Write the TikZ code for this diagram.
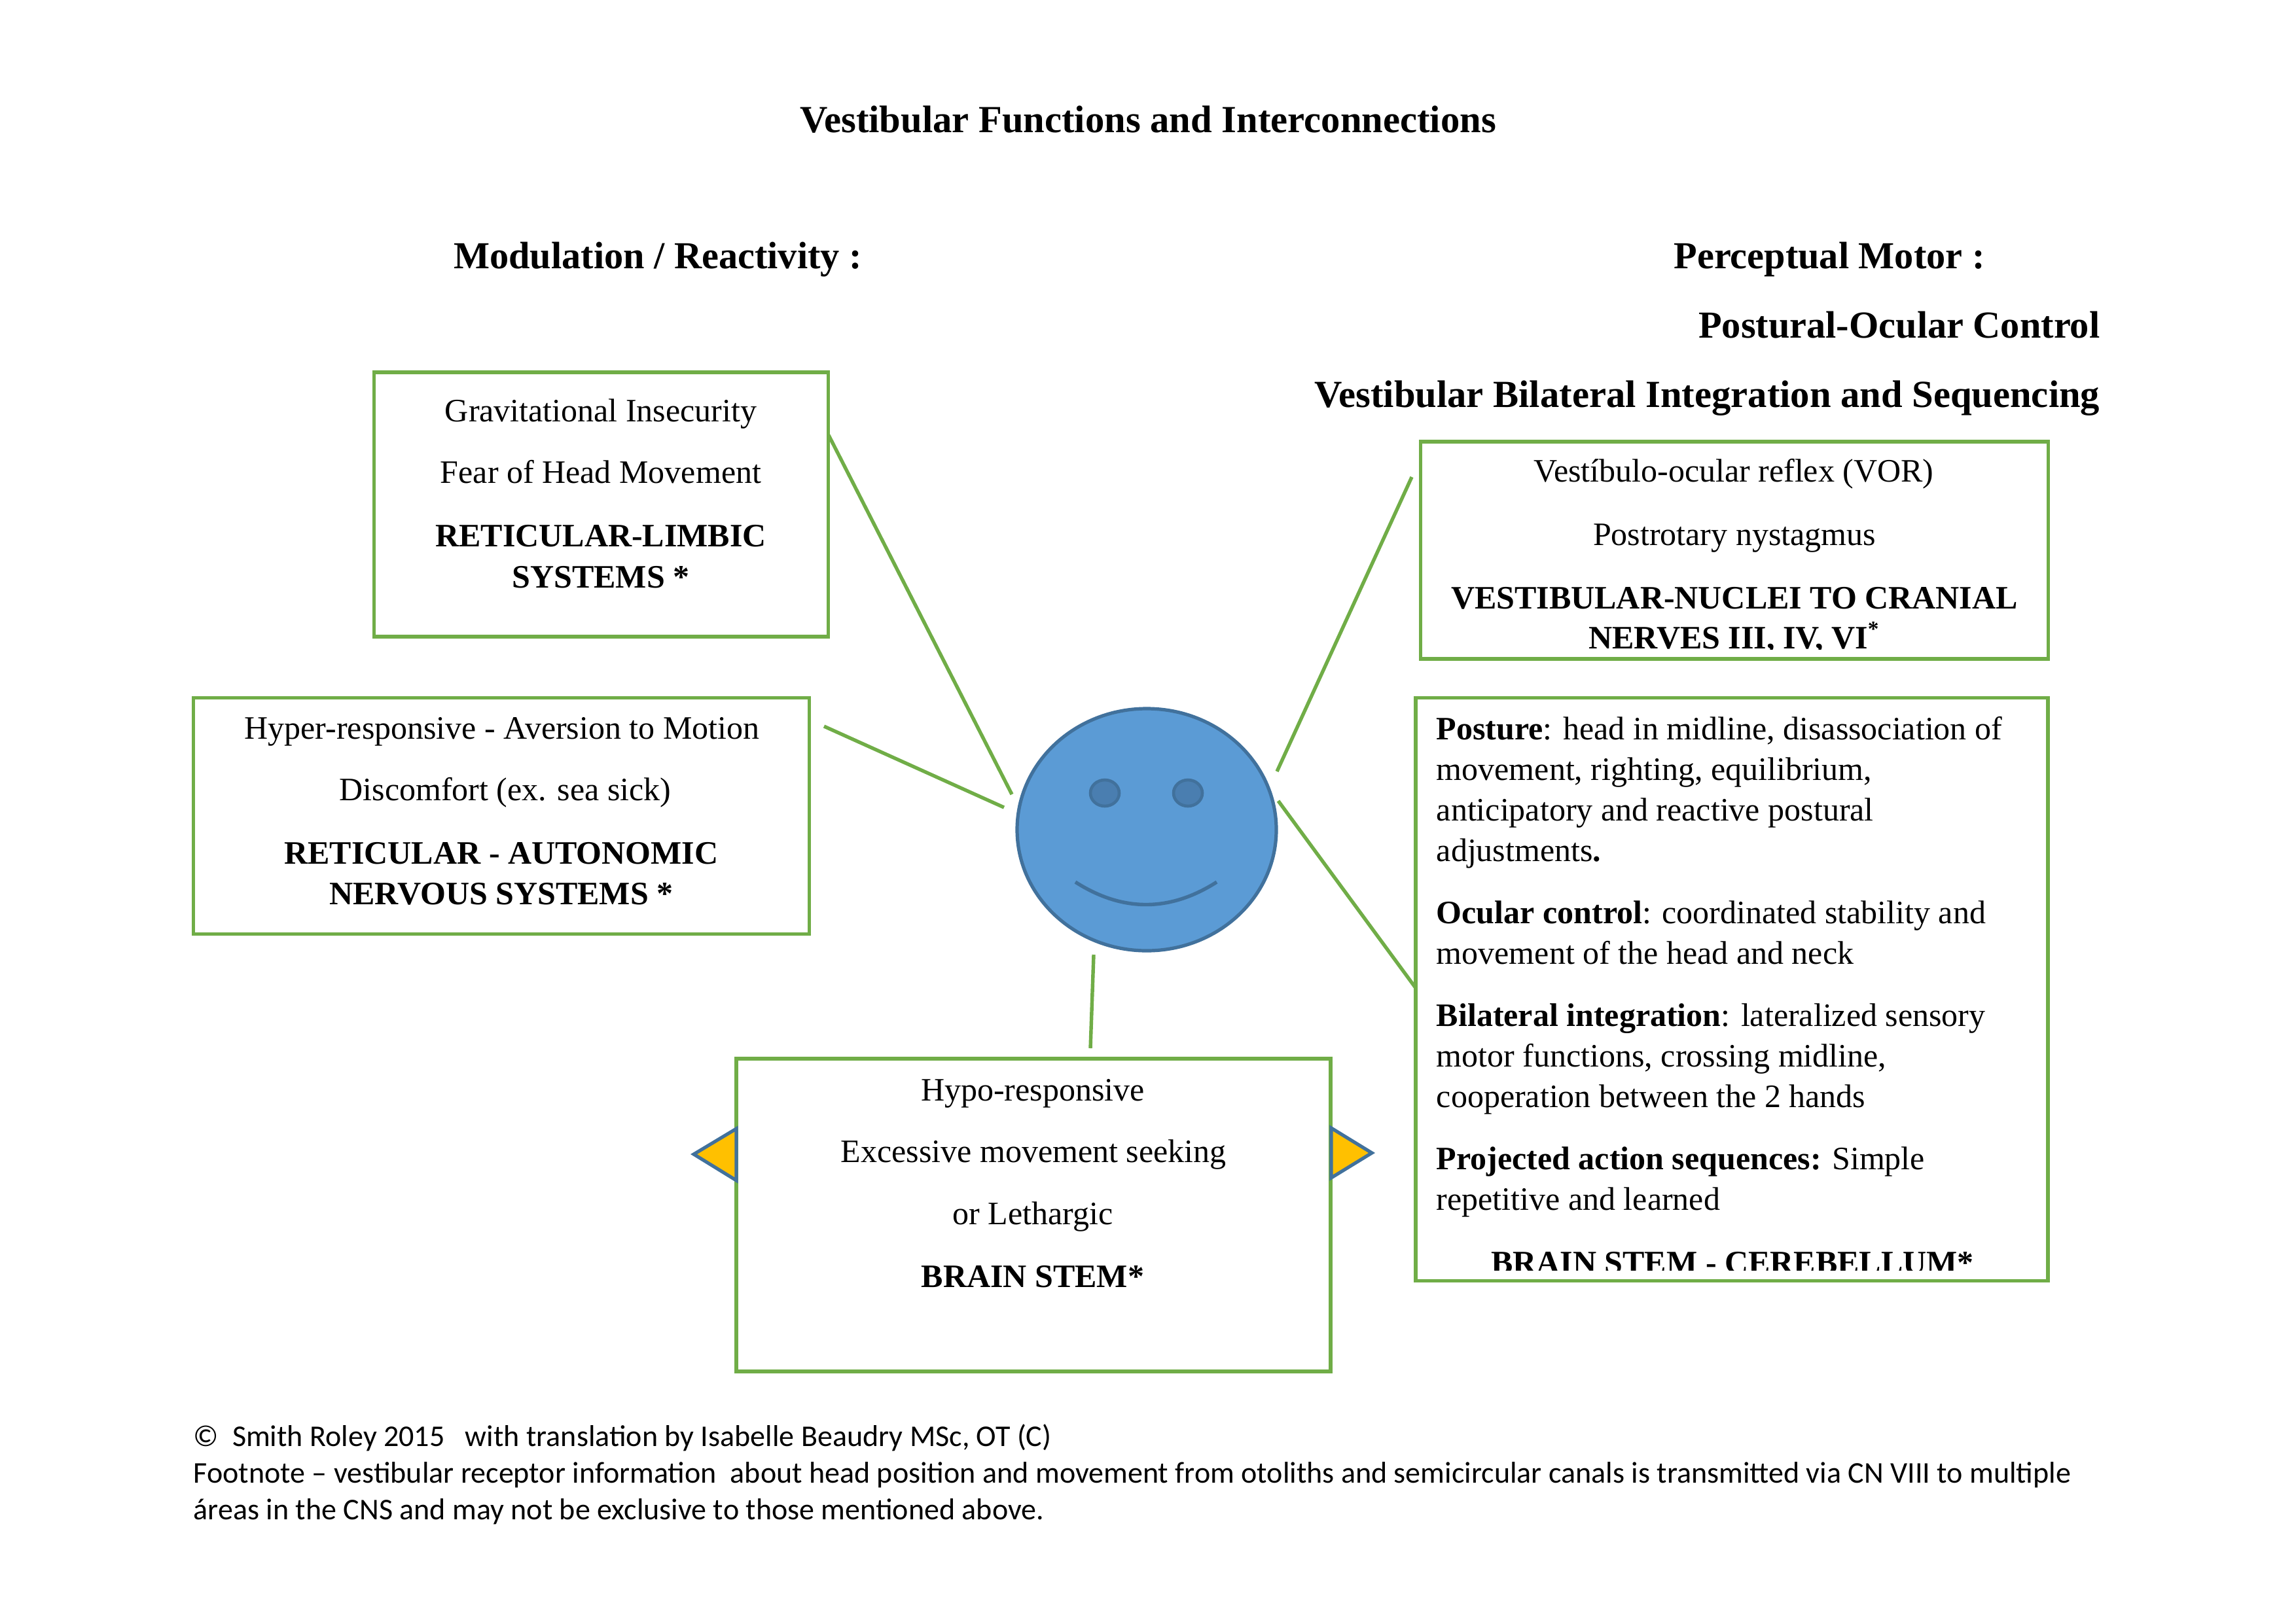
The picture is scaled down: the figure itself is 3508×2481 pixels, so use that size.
\documentclass[tikz,border=0pt]{standalone}
\usepackage{fontspec}
\setmainfont{Liberation Serif}
\newfontfamily\footfont{Carlito}
\definecolor{grn}{HTML}{70AD47}
\definecolor{faceblue}{HTML}{5B9BD5}
\definecolor{faceline}{HTML}{41719C}
\definecolor{eyefill}{HTML}{4A7EB0}
\definecolor{gold}{HTML}{FFC000}
\tikzset{
  boxn/.style={draw=grn,line width=1.22pt,rectangle,inner sep=0pt,outer sep=0pt},
  boxm/.style={boxn,line width=1.3pt},
  conn/.style={draw=grn,line width=1.3pt},
  txt/.style={anchor=base,inner sep=0pt,font=\fontsize{12}{14}\selectfont},
  txtl/.style={txt,anchor=base west},
  hd/.style={anchor=base,inner sep=0pt,font=\fontsize{14}{16}\selectfont\bfseries},
  hdw/.style={anchor=base,inner sep=0pt,font=\fontsize{14.07}{16}\selectfont\bfseries},
  hdr/.style={hd,anchor=base east},
  foot/.style={anchor=base west,inner sep=0pt,font=\fontsize{11.05}{13}\footfont},
  face/.style={draw=faceline,line width=1.25pt,fill=faceblue,ellipse,inner sep=0pt,outer sep=0pt},
  eye/.style={ellipse,draw=faceline,fill=eyefill,line width=1.1pt,minimum width=44*0.24pt,minimum height=40*0.24pt,inner sep=0pt},
  tri/.style={draw=faceline,line width=1.25pt,fill=gold,line join=miter},
}
\usetikzlibrary{shapes.geometric}
\begin{document}
\begin{tikzpicture}[x=0.24pt,y=-0.24pt]
\useasboundingbox (0,0) rectangle (3508,2481);
% headings
\node[hdw] (title) at (1754,202) {Vestibular Functions and Interconnections};
\node[hd] (modul) at (1005,410) {Modulation / Reactivity :};
\node[hd] (percept) at (2795,410) {Perceptual Motor :};
\node[hdr] (postural) at (3209,516) {Postural-Ocular Control};
\node[hdw,anchor=base east] (bilat) at (3209,622) {Vestibular Bilateral Integration and Sequencing};
% boxes
\node[boxn,minimum width=694*0.24pt,minimum height=404*0.24pt] (box1) at (918.5,771) {};
\node[boxn,minimum width=941*0.24pt,minimum height=361*0.24pt] (box2) at (766,1247) {};
\node[boxn,minimum width=908*0.24pt,minimum height=478*0.24pt] (box3) at (1579,1857) {};
\node[boxm,minimum width=959*0.24pt,minimum height=332*0.24pt] (box4) at (2650,841) {};
\node[boxm,minimum width=966*0.24pt,minimum height=891*0.24pt] (box5) at (2646,1512) {};
% face
\node[face,minimum width=396*0.24pt,minimum height=370*0.24pt] (facen) at (1752,1268) {};
\node[eye] (eyel) at (1688,1212) {};
\node[eye] (eyer) at (1815,1212) {};
\coordinate (smilel) at (1643,1348);
\coordinate (smiler) at (1859,1348);
\draw[faceline,line width=1.3pt] (smilel) .. controls (1715,1394) and (1787,1394) .. (smiler);
% connectors
\coordinate (c1a) at (1266,665); \coordinate (c1b) at (1546,1214);
\coordinate (c2a) at (1259,1110); \coordinate (c2b) at (1534,1234);
\coordinate (c3a) at (1671,1459); \coordinate (c3b) at (1666,1602);
\coordinate (c4a) at (1951,1179); \coordinate (c4b) at (2157,729);
\coordinate (c5a) at (1953,1224); \coordinate (c5b) at (2163,1510);
\draw[conn] (c1a) -- (c1b);
\draw[conn] (c2a) -- (c2b);
\draw[conn] (c3a) -- (c3b);
\draw[conn] (c4a) -- (c4b);
\draw[conn] (c5a) -- (c5b);
% triangles
\coordinate (tl1) at (1125,1725); \coordinate (tl2) at (1060,1764); \coordinate (tl3) at (1125,1804);
\coordinate (tr1) at (2034,1724); \coordinate (tr2) at (2096,1762); \coordinate (tr3) at (2034,1800);
\draw[tri] (tl1) -- (tl2) -- (tl3) -- cycle;
\draw[tri] (tr1) -- (tr2) -- (tr3) -- cycle;
% box 1 text
\node[txt] (b1a) at (918,644) {Gravitational Insecurity};
\node[txt] (b1b) at (918,738) {Fear of Head Movement};
\node[txt] (b1c) at (918,835) {\bfseries RETICULAR-LIMBIC};
\node[txt] (b1d) at (918,898) {\bfseries SYSTEMS *};
% box 2 text
\node[txt] (b2a) at (767,1129) {Hyper-responsive - Aversion to Motion};
\node[txt] (b2b) at (772,1223) {Discomfort (ex. sea sick)};
\node[txt] (b2c) at (766,1320) {\bfseries RETICULAR - AUTONOMIC};
\node[txt] (b2d) at (766,1382) {\bfseries NERVOUS SYSTEMS *};
% box 3 text
\node[txt] (b3a) at (1578,1682) {Hypo-responsive};
\node[txt] (b3b) at (1579,1776) {Excessive movement seeking};
\node[txt] (b3c) at (1578,1871) {or Lethargic};
\node[txt] (b3d) at (1578,1967) {\bfseries BRAIN STEM*};
% box 4 text
\node[txt] (b4a) at (2649,736) {Vest\'{\i}bulo-ocular reflex (VOR)};
\node[txt] (b4b) at (2650,833) {Postrotary nystagmus};
\node[txt] (b4c) at (2650,930) {\bfseries VESTIBULAR-NUCLEI TO CRANIAL};
\begin{scope}
\clip (2175,680) rectangle (3126,992);
\node[txt] (b4d) at (2650,991) {\bfseries NERVES III, IV, VI\textsuperscript{*}};
\end{scope}
% box 5 text
\node[txtl] (p1) at (2194,1130) {\textbf{Posture}: head in midline, disassociation of};
\node[txtl] (p2) at (2194,1192) {movement, righting, equilibrium,};
\node[txtl] (p3) at (2194,1254) {anticipatory and reactive postural};
\node[txtl] (p4) at (2194,1316) {adjustments\textbf{.}};
\node[txtl] (p5) at (2194,1411) {\textbf{Ocular control}: coordinated stability and};
\node[txtl] (p6) at (2194,1473) {movement of the head and neck};
\node[txtl] (p7) at (2194,1568) {\textbf{Bilateral integration}: lateralized sensory};
\node[txtl] (p8) at (2194,1630) {motor functions, crossing midline,};
\node[txtl] (p9) at (2194,1692) {cooperation between the 2 hands};
\node[txtl] (p10) at (2194,1787) {\textbf{Projected action sequences:} Simple};
\node[txtl] (p11) at (2194,1849) {repetitive and learned};
\begin{scope}
\clip (2170,1800) rectangle (3126,1941);
\node[txt] (p12) at (2647,1946) {\bfseries BRAIN STEM - CEREBELLUM*};
\end{scope}
% footer
\node[foot] (f1) at (295,2210) {©\ \ Smith Roley 2015\ \ \ with translation by Isabelle Beaudry MSc, OT (C)};
\node[foot] (f2) at (295,2266) {Footnote – vestibular receptor information\ \ about head position and movement from otoliths and semicircular canals is transmitted via CN VIII to multiple};
\node[foot] (f3) at (295,2322) {áreas in the CNS and may not be exclusive to those mentioned above.};
\end{tikzpicture}
\end{document}
